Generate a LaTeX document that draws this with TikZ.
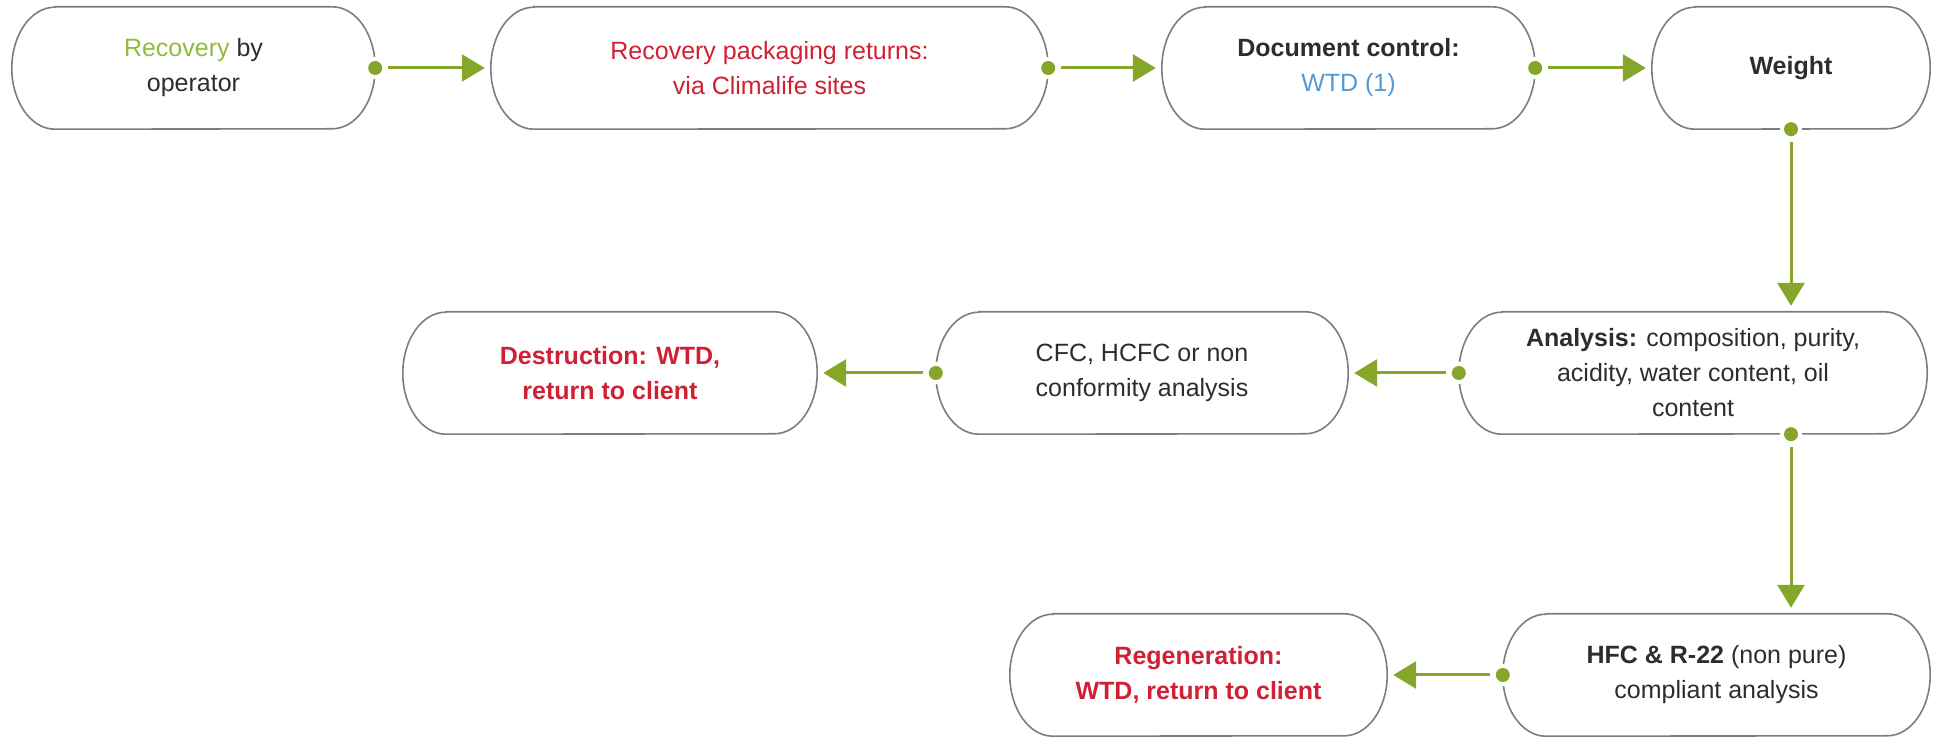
\documentclass[tikz,border=0pt]{standalone}
\usepackage{fontspec}
\setmainfont{Liberation Sans}
\usetikzlibrary{arrows.meta,calc}
\definecolor{tgreen}{RGB}{146,186,58}
\definecolor{agreen}{RGB}{134,166,42}
\definecolor{tred}{RGB}{208,32,52}
\definecolor{tblue}{RGB}{84,152,212}
\definecolor{tdark}{RGB}{45,45,45}
\definecolor{edgegray}{RGB}{125,125,125}
\newcommand\stadiumoutline[1]{%
  \draw[outline] ($(#1.north west)+(43,0)$) -- ($(#1.north east)+(-43,0)$)
    arc[start angle=90,end angle=-90,x radius=43pt,y radius=61pt]
    -- ($(#1.south west)+(43,0)$)
    arc[start angle=270,end angle=90,x radius=43pt,y radius=61pt] -- cycle;}
\begin{document}
\begin{tikzpicture}[x=1pt,y=1pt,
  stepbox/.style={draw=none, inner sep=0pt, minimum height=122pt, align=center,
    font=\fontsize{25}{35}\selectfont, text=tdark},
  flow/.style={draw=agreen, line width=3pt, -{Triangle[length=23pt,width=27pt]},
    shorten >=6pt, shorten <=13pt},
  outline/.style={draw=edgegray, line width=1.6pt}]
\useasboundingbox (0,0) rectangle (1933,738);
% top row
\node[stepbox, minimum width=363pt] (b1) at (193.5,670) {\textcolor{tgreen}{Recovery} by\\operator};
\node[stepbox, minimum width=557pt, text=tred] (b2) at (769.5,670) {Recovery packaging returns:\\via Climalife sites};
\node[stepbox, minimum width=373pt] (b3) at (1348.5,670) {\textbf{Document control:}\\\textcolor{tblue}{WTD (1)}};
\node[stepbox, minimum width=278pt] (b4) at (1791,670) {\textbf{Weight}};
% middle row
\node[stepbox, minimum width=468pt] (an) at (1693,365) {\textbf{Analysis:} composition, purity,\\acidity, water content, oil\\content};
\node[stepbox, minimum width=412pt] (cfc) at (1142,365) {CFC, HCFC or non\\conformity analysis};
\node[stepbox, minimum width=414pt, text=tred] (des) at (610,365) {\textbf{Destruction: WTD,}\\\textbf{return to client}};
% bottom row
\node[stepbox, minimum width=427pt] (hfc) at (1716.5,63) {\textbf{HFC \& R-22} (non pure)\\compliant analysis};
\node[stepbox, minimum width=377pt, text=tred] (reg) at (1198.5,63) {\textbf{Regeneration:}\\\textbf{WTD, return to client}};
% outlines
\foreach \n in {b1,b2,b3,b4,an,cfc,des,hfc,reg} {\stadiumoutline{\n}}
% connectors
\draw[flow] (b1.east) -- (b2.west);
\draw[flow] (b2.east) -- (b3.west);
\draw[flow] (b3.east) -- (b4.west);
\draw[flow] (b4.south) -- (b4.south |- an.north);
\draw[flow] (an.west) -- (cfc.east);
\draw[flow] (cfc.west) -- (des.east);
\draw[flow] (b4.south |- an.south) -- (b4.south |- hfc.north);
\draw[flow] (hfc.west) -- (reg.east);
% dots with white halo
\coordinate (andot) at (b4.south |- an.south);
\foreach \p in {b1.east,b2.east,b3.east,b4.south,an.west,cfc.west,hfc.west,andot} {
  \fill[white] (\p) circle (11pt);
  \fill[agreen] (\p) circle (7pt);}
\end{tikzpicture}
\end{document}
